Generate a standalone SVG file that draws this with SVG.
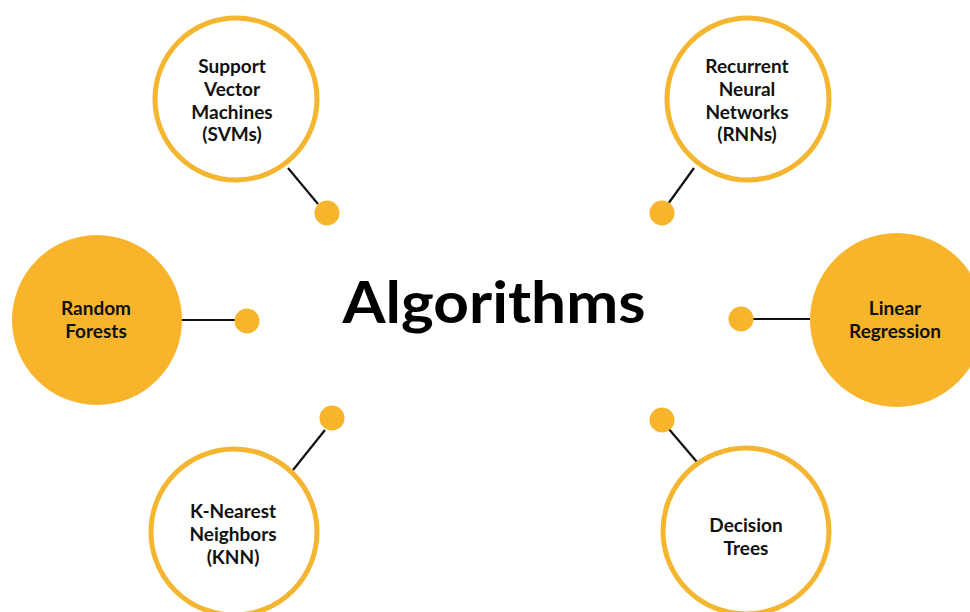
<svg xmlns="http://www.w3.org/2000/svg" width="970" height="612" viewBox="0 0 970 612">
<style>
.bg{fill:#ffffff}
.ring{fill:#ffffff;stroke:#F4B530;stroke-width:5}
.solid{fill:#F8B42B}
.dot{fill:#F8B42B}
.conn{stroke:#111111;stroke-width:2.2;fill:none}
.lbl{font-family:Lato,"Open Sans","Liberation Sans",sans-serif;font-weight:700;font-size:19px;fill:#111111;text-anchor:middle}
.title{font-family:Lato,"Open Sans","Liberation Sans",sans-serif;font-weight:700;font-size:58px;fill:#000000;text-anchor:middle}
</style>
<rect class="bg" x="0" y="0" width="970" height="612"/>
<g id="connectors">
<line class="conn" x1="288" y1="168" x2="318" y2="204"/>
<line class="conn" x1="181" y1="320" x2="240" y2="320"/>
<line class="conn" x1="325" y1="430" x2="293" y2="470"/>
<line class="conn" x1="694" y1="168" x2="668" y2="204"/>
<line class="conn" x1="748" y1="319" x2="810" y2="319"/>
<line class="conn" x1="668" y1="428" x2="697" y2="462"/>
<circle class="dot" cx="327" cy="213" r="12.5"/>
<circle class="dot" cx="247" cy="321" r="12.5"/>
<circle class="dot" cx="332" cy="418" r="12.5"/>
<circle class="dot" cx="662" cy="213" r="12.5"/>
<circle class="dot" cx="741" cy="319" r="12.5"/>
<circle class="dot" cx="662" cy="420" r="12.5"/>
</g>
<g id="title">
<text class="title" x="494" y="323" textLength="303" lengthAdjust="spacingAndGlyphs">Algorithms</text>
</g>
<g id="svm">
<circle class="ring" cx="236" cy="99" r="81"/>
<text class="lbl" x="232" y="73">Support</text>
<text class="lbl" x="232" y="96">Vector</text>
<text class="lbl" x="232" y="118.5">Machines</text>
<text class="lbl" x="232" y="141">(SVMs)</text>
</g>
<g id="rnn">
<circle class="ring" cx="748" cy="99" r="81"/>
<text class="lbl" x="747" y="73">Recurrent</text>
<text class="lbl" x="747" y="96">Neural</text>
<text class="lbl" x="747" y="118.5">Networks</text>
<text class="lbl" x="747" y="141">(RNNs)</text>
</g>
<g id="random-forests">
<circle class="solid" cx="97" cy="320" r="85"/>
<text class="lbl" x="96" y="315">Random</text>
<text class="lbl" x="96" y="338">Forests</text>
</g>
<g id="linear-regression">
<circle class="solid" cx="897" cy="320" r="87"/>
<text class="lbl" x="895" y="315">Linear</text>
<text class="lbl" x="895" y="338">Regression</text>
</g>
<g id="knn">
<circle class="ring" cx="234" cy="532" r="83"/>
<text class="lbl" x="233" y="518">K-Nearest</text>
<text class="lbl" x="233" y="541">Neighbors</text>
<text class="lbl" x="233" y="564">(KNN)</text>
</g>
<g id="decision-trees">
<circle class="ring" cx="746" cy="531" r="83"/>
<text class="lbl" x="746" y="532">Decision</text>
<text class="lbl" x="746" y="555">Trees</text>
</g>
</svg>
